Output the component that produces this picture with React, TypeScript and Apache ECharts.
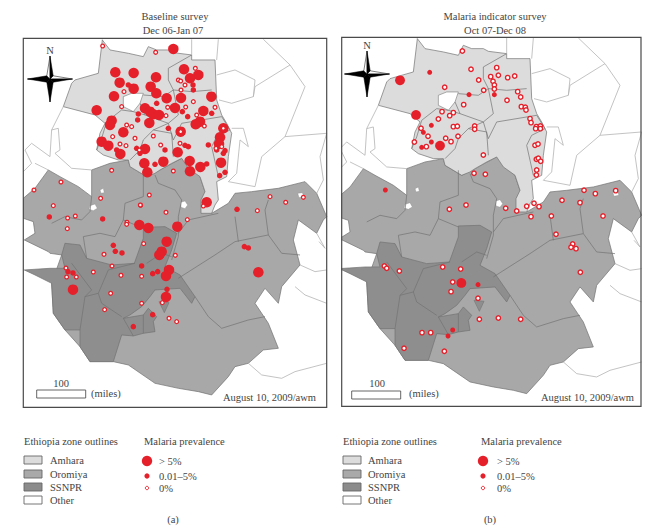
import React, { useEffect, useRef } from "react";
import * as echarts from "echarts";

type P = number[][];
// Map units: 3 units = 1 pixel.
const otherBlobs: P[] = [
  [[225,617],[240,612],[247,625],[235,632],[222,628]],
  [[497,607],[510,603],[518,615],[510,626],[498,622]],
  [[848,580],[862,578],[867,590],[852,593]],
  [[255,570],[265,565],[268,578],[258,580]],
];
const oromiya: P = [[25,595],[60,565],[100,510],[135,530],[190,560],[230,590],[230,510],[285,490],[340,480],[345,500],[395,530],[435,510],[500,475],[555,530],[570,575],[590,640],[640,610],[660,580],[710,575],[790,565],[870,545],[905,580],[935,650],[925,660],[905,700],[850,660],[835,720],[855,795],[800,860],[790,910],[750,865],[720,910],[760,970],[790,1045],[745,1050],[700,1090],[660,1100],[640,1130],[590,1185],[550,1175],[490,1165],[420,1150],[340,1095],[295,1085],[225,1085],[195,1040],[150,990],[115,940],[110,850],[140,765],[105,760],[100,755],[28,720],[60,700],[55,665],[25,655]];
const ssnpr: P = [[28,810],[105,805],[150,805],[140,765],[150,730],[195,735],[215,775],[290,795],[358,790],[385,715],[385,682],[450,680],[485,700],[470,750],[450,800],[495,825],[540,890],[530,910],[495,865],[420,870],[405,890],[380,920],[345,945],[325,955],[385,945],[400,925],[425,950],[415,965],[420,995],[385,1000],[355,1008],[320,1005],[295,1085],[225,1085],[195,1040],[195,990],[150,990],[115,940],[110,850],[60,825]];
const ssnprTail: P = [[432,905],[462,908],[448,938]];
const amhara: P = [[262,120],[285,150],[340,160],[385,170],[400,140],[425,150],[460,150],[475,158],[530,165],[530,180],[600,180],[605,300],[620,345],[635,370],[650,400],[640,470],[635,530],[605,545],[610,600],[600,615],[590,640],[558,640],[558,600],[570,575],[555,530],[520,505],[500,475],[470,490],[435,510],[420,520],[395,530],[345,500],[340,480],[310,480],[265,465],[245,450],[255,400],[270,370],[240,345],[145,320],[170,250],[180,240],[250,220]];
const amharaHole: P = [[325,290],[350,280],[385,280],[375,310],[355,335],[325,320]];
const zoneLines: P[] = [
  [[530,165],[460,205],[460,240],[475,270],[530,275],[590,270]],
  [[475,270],[445,290],[385,285]],
  [[375,310],[390,345],[460,370],[490,345],[475,270]],
  [[320,330],[355,335],[390,345]],
  [[320,330],[275,365],[260,415],[245,450]],
  [[460,370],[475,420],[500,370],[620,350]],
  [[415,390],[470,400],[475,470]],
  [[460,370],[415,390],[385,420],[375,450],[345,480]],
  [[620,350],[645,390],[605,410],[590,440],[610,530]],
  [[385,515],[385,590],[330,610],[325,660],[385,685]],
  [[420,525],[430,550],[480,570],[500,600],[490,650],[490,710],[470,780]],
  [[110,670],[150,650],[200,660],[225,635],[230,590]],
  [[205,710],[255,700],[300,710],[325,660]],
  [[205,710],[215,775]],
  [[490,835],[600,765],[660,725],[760,705],[800,760],[855,765]],
  [[660,650],[670,725]],
  [[760,705],[750,630],[760,600]],
  [[540,890],[580,950],[620,985],[700,960],[750,950]],
  [[490,700],[520,660],[610,640]],
  [[250,880],[280,810],[360,790]],
  [[250,880],[260,910],[320,950]],
  [[210,890],[250,880]],
  [[195,990],[210,890],[230,870],[170,790]],
  [[395,790],[440,760],[470,770]],
  [[325,955],[355,1008]],
  [[385,945],[385,1000]],
];
const otherLines: P[] = [
  [[610,118],[605,180]],
  [[745,118],[825,195],[870,260],[810,410],[935,400]],
  [[825,195],[720,260],[715,290],[650,310],[612,300]],
  [[605,225],[660,210],[720,240],[715,290]],
  [[650,385],[685,385],[700,440],[675,420],[665,520],[640,545]],
  [[640,545],[720,560],[740,470],[810,410]],
  [[935,400],[915,470],[925,540],[905,580]],
  [[145,320],[110,390],[130,385],[135,450],[120,460],[170,505],[230,510]],
  [[110,390],[105,470],[50,430],[30,450],[50,490],[25,515]],
  [[100,510],[60,490]],
  [[530,118],[530,165]],
  [[262,118],[262,120]],
  [[855,795],[900,815],[935,810]],
  [[840,860],[870,885],[935,910]],
  [[700,1090],[740,1125],[800,1135],[840,1115],[935,1090]],
  [[905,700],[930,745],[912,725]],
];

const aLarge: P = [[475,147],[301,217],[356,219],[507,208],[550,225],[525,235],[423,232],[314,248],[356,266],[407,260],[424,280],[297,289],[455,295],[498,294],[589,290],[245,331],[390,325],[405,335],[415,343],[432,345],[480,324],[565,333],[290,362],[285,375],[403,369],[325,397],[555,365],[542,373],[497,395],[260,425],[280,437],[390,447],[316,462],[488,457],[388,490],[445,485],[524,483],[618,488],[525,514],[556,501],[397,517],[575,607],[625,385],[615,412],[612,432],[373,675],[400,684],[487,680],[455,725],[440,755],[433,765],[462,810],[453,828],[730,817],[174,869],[453,891]];
const aSmall: P = [[340,255],[425,310],[370,342],[368,360],[460,385],[502,335],[518,350],[590,340],[535,270],[534,255],[510,436],[520,440],[580,435],[450,450],[365,445],[375,460],[420,493],[575,492],[630,517],[614,527],[605,450],[630,452],[625,460],[305,450],[103,651],[263,657],[666,628],[295,736],[301,754],[321,759],[380,798],[413,821],[428,815],[159,815],[174,819],[688,740],[700,744],[456,868],[413,944],[355,980]];
const aZero: P = [[263,138],[422,157],[541,205],[490,240],[497,243],[510,255],[498,270],[327,275],[320,320],[535,305],[458,322],[512,321],[600,322],[453,347],[545,345],[568,378],[335,375],[350,380],[293,410],[360,415],[415,408],[437,435],[315,432],[333,437],[495,430],[373,450],[620,440],[603,445],[497,395],[625,385],[290,511],[475,513],[138,546],[57,570],[115,617],[257,595],[403,585],[377,616],[765,590],[812,607],[865,592],[158,654],[181,648],[157,686],[336,667],[335,673],[376,615],[453,637],[517,659],[386,731],[267,763],[481,766],[291,798],[235,816],[318,826],[380,829],[153,804],[155,831],[184,831],[287,880],[380,910],[269,929],[442,908],[462,955],[485,965],[727,632],[565,618]];
const bLarge: P = [[195,241],[243,345],[315,437],[379,849]];
const bSmall: P = [[284,217],[402,284],[478,284],[289,376],[265,397],[289,426],[260,442],[151,570],[429,854],[353,990],[339,1008]];
const bZero: P = [[382,153],[408,208],[485,203],[467,230],[490,226],[518,233],[539,228],[431,240],[474,244],[478,255],[478,267],[446,271],[329,262],[548,275],[557,291],[516,301],[386,314],[321,335],[355,338],[344,347],[310,357],[559,320],[571,322],[573,330],[585,356],[588,368],[604,380],[616,378],[602,386],[616,386],[355,380],[367,379],[419,378],[419,388],[258,385],[279,409],[332,415],[369,409],[348,425],[238,426],[274,440],[600,436],[609,432],[445,465],[604,478],[610,475],[617,484],[605,510],[604,525],[417,520],[451,523],[747,571],[781,581],[842,572],[681,601],[735,608],[575,619],[597,610],[612,620],[343,628],[393,615],[512,625],[545,633],[588,650],[649,648],[804,648],[663,703],[713,732],[708,742],[723,746],[148,798],[155,805],[193,813],[323,801],[377,807],[353,846],[348,875],[736,817],[429,895],[433,958],[490,954],[557,958],[261,998],[287,998],[207,1045],[328,1054]];

const panelTitles = [["Baseline survey", "Dec 06-Jan 07"], ["Malaria indicator survey", "Oct 07-Dec 08"]];
const stamp = "August 10, 2009/awm";
const zoneNames = ["Amhara", "Oromiya", "SSNPR", "Other"];
const prevalenceNames = ["> 5%", "0.01–5%", "0%"];
const subLabels = ["(a)", "(b)"];

const RED = "#e5202a";
const TXT = "#444444";
const FONT = "'Liberation Serif', serif";
const SWATCH = ["#dcdcdc", "#a9a9a9", "#8c8c8c", "#ffffff"];
const LINE = "#737373";

type Shape = { pts: P; fill?: string; stroke: string; w: number };
const shapes: Shape[] = [
  { pts: oromiya, fill: "#a8a8a8", stroke: LINE, w: 0.7 },
  ...otherBlobs.map((pts) => ({ pts, fill: "#ffffff", stroke: "#888", w: 0.4 })),
  { pts: ssnpr, fill: "#8e8e8e", stroke: LINE, w: 0.7 },
  { pts: ssnprTail, fill: "#8e8e8e", stroke: LINE, w: 0.6 },
  { pts: amhara, fill: "#dcdcdc", stroke: LINE, w: 0.7 },
  { pts: amharaHole, fill: "#ffffff", stroke: "#777", w: 0.6 },
  ...zoneLines.map((pts) => ({ pts, stroke: LINE, w: 0.7 })),
  ...otherLines.map((pts) => ({ pts, stroke: "#b4b4b4", w: 0.8 })),
];

const mapSeries = (gridIndex: number) => ({
  type: "custom",
  xAxisIndex: gridIndex,
  yAxisIndex: gridIndex,
  clip: true,
  silent: true,
  encode: { x: 0, y: 1 },
  data: shapes.map((s) => s.pts[0]),
  renderItem: (params: any, api: any) => {
    const s = shapes[params.dataIndex];
    const points = s.pts.map((p) => api.coord(p));
    return {
      type: s.fill ? "polygon" : "polyline",
      shape: { points },
      style: { fill: s.fill ?? "none", stroke: s.stroke, lineWidth: s.w },
    };
  },
});

const dots = (name: string, data: P, gridIndex: number, size: number, hollow: boolean, border = 1.2) => ({
  type: "scatter",
  name,
  xAxisIndex: gridIndex,
  yAxisIndex: gridIndex,
  data,
  symbolSize: size,
  silent: true,
  z: 5,
  itemStyle: hollow
    ? { color: "#fff", borderColor: RED, borderWidth: border, opacity: 1 }
    : { color: RED, opacity: 1 },
});

const txt = (x: number, y: number, text: string, align = "left", fontSize = 10.5) => ({
  type: "text",
  x,
  y,
  style: { text, x: 0, y: 0, fill: TXT, font: `${fontSize}px ${FONT}`, textAlign: align, textVerticalAlign: "middle" },
  silent: true,
});

const compass = (cx: number, cy: number) => {
  const L = 22.5, T = 23, w = 3.2;
  const poly = (pts: number[][], fill: string) => ({
    type: "polygon",
    shape: { points: pts.map(([x, y]) => [cx + x, cy + y]) },
    style: { fill, stroke: "#000", lineWidth: 0.5 },
    silent: true,
  });
  return [
    poly([[-L, 0], [-w, -w], [0, 0]], "#000"),
    poly([[-L, 0], [-w, w], [0, 0]], "#000"),
    poly([[L, 0], [w, -w], [0, 0]], "#fff"),
    poly([[L, 0], [w, w], [0, 0]], "#000"),
    poly([[0, -T], [-w, -w], [0, 0]], "#fff"),
    poly([[0, -T], [w, -w], [0, 0]], "#000"),
    poly([[0, T], [-w, w], [0, 0]], "#000"),
    poly([[0, T], [w, w], [0, 0]], "#000"),
    txt(cx, cy - 29, "N", "center", 10.5),
  ];
};

const legend = (x0: number, xLabel: number, xMal: number, xMalText: number, sub: string, subX: number) => {
  const rowsY = [460, 474, 487, 500];
  const out: any[] = [
    txt(x0, 441, "Ethiopia zone outlines"),
    txt(xMal, 441, "Malaria prevalence"),
    txt(subX, 519, sub, "center"),
  ];
  zoneNames.forEach((n, i) => {
    out.push({
      type: "rect",
      shape: { x: x0, y: rowsY[i] - 4, width: 18, height: 8 },
      style: { fill: SWATCH[i], stroke: "#666", lineWidth: 0.9 },
      silent: true,
    });
    out.push(txt(xLabel, rowsY[i], n));
  });
  const cx = xMal + (x0 < 100 ? 3 : 2);
  const ys = [461, 476, 488];
  out.push({ type: "circle", shape: { cx, cy: ys[0], r: 5.2 }, style: { fill: RED }, silent: true });
  out.push({ type: "circle", shape: { cx, cy: ys[1], r: 2.6 }, style: { fill: RED }, silent: true });
  out.push({ type: "circle", shape: { cx, cy: ys[2], r: 1.7 }, style: { fill: "#fff", stroke: RED, lineWidth: 0.9 }, silent: true });
  prevalenceNames.forEach((n, i) => out.push(txt(xMalText, ys[i], n)));
  return out;
};

const scaleBar = (x: number, y: number, labelX: number, milesX: number) => [
  { type: "rect", shape: { x, y, width: 49, height: 8 }, style: { fill: "#fff", stroke: "#555", lineWidth: 0.9 }, silent: true },
  txt(labelX, 383, "100", "center"),
  txt(milesX, 393, "(miles)"),
];

const A = { left: 23.3, top: 38.3, width: 303.4, height: 369 };
const B = { left: 341.7, top: 37.3, width: 299.3, height: 369 };

const axisBase = { show: false, type: "value" as const, scale: true };

export default function App() {
  const ref = useRef<HTMLDivElement>(null);
  useEffect(() => {
    const chart = echarts.init(ref.current!, null, { renderer: "svg" });
    chart.setOption({
      animation: false,
      backgroundColor: "#fff",
      grid: [
        { ...A, show: false, containLabel: false },
        { ...B, show: false, containLabel: false },
        { ...B, show: false, containLabel: false },
      ],
      xAxis: [
        { ...axisBase, gridIndex: 0, min: 25, max: 935 },
        { ...axisBase, gridIndex: 1, min: 35, max: 933 },
        { ...axisBase, gridIndex: 2, min: 20, max: 918 },
      ],
      yAxis: [
        { ...axisBase, gridIndex: 0, inverse: true, min: 115, max: 1222 },
        { ...axisBase, gridIndex: 1, inverse: true, min: 116, max: 1223 },
        { ...axisBase, gridIndex: 2, inverse: true, min: 112, max: 1219 },
      ],
      series: [
        mapSeries(0),
        mapSeries(1),
        dots("a >5%", aLarge, 0, 10.5, false),
        dots("a 0.01-5%", aSmall, 0, 5.5, false),
        dots("a 0%", aZero, 0, 3.8, true, 1.3),
        dots("b >5%", bLarge, 2, 9.8, false),
        dots("b 0.01-5%", bSmall, 2, 5, false),
        dots("b 0%", bZero, 2, 4.4, true, 1.4),
      ],
      graphic: [
        { type: "rect", shape: { x: A.left, y: A.top, width: A.width, height: A.height }, style: { fill: "none", stroke: "#4a4a4a", lineWidth: 1.2 }, silent: true, z: 20 },
        { type: "rect", shape: { x: B.left, y: B.top, width: B.width, height: B.height }, style: { fill: "none", stroke: "#4a4a4a", lineWidth: 1.2 }, silent: true, z: 20 },
        txt(175, 16, panelTitles[0][0], "center"),
        txt(173, 30, panelTitles[0][1], "center"),
        txt(495, 16, panelTitles[1][0], "center"),
        txt(495, 30, panelTitles[1][1], "center"),
        ...compass(50, 79),
        ...compass(367, 74),
        ...scaleBar(36.7, 390, 61, 91),
        ...scaleBar(351.7, 391, 377, 409),
        txt(316, 397, stamp, "right"),
        txt(634, 397, stamp, "right"),
        ...legend(24, 50, 144, 159, subLabels[0], 173),
        ...legend(343, 368, 481, 497, subLabels[1], 490),
      ],
    });
    return () => chart.dispose();
  }, []);
  return <div ref={ref} style={{ position: "fixed", left: 0, top: 0, width: 660, height: 531 }} />;
}
